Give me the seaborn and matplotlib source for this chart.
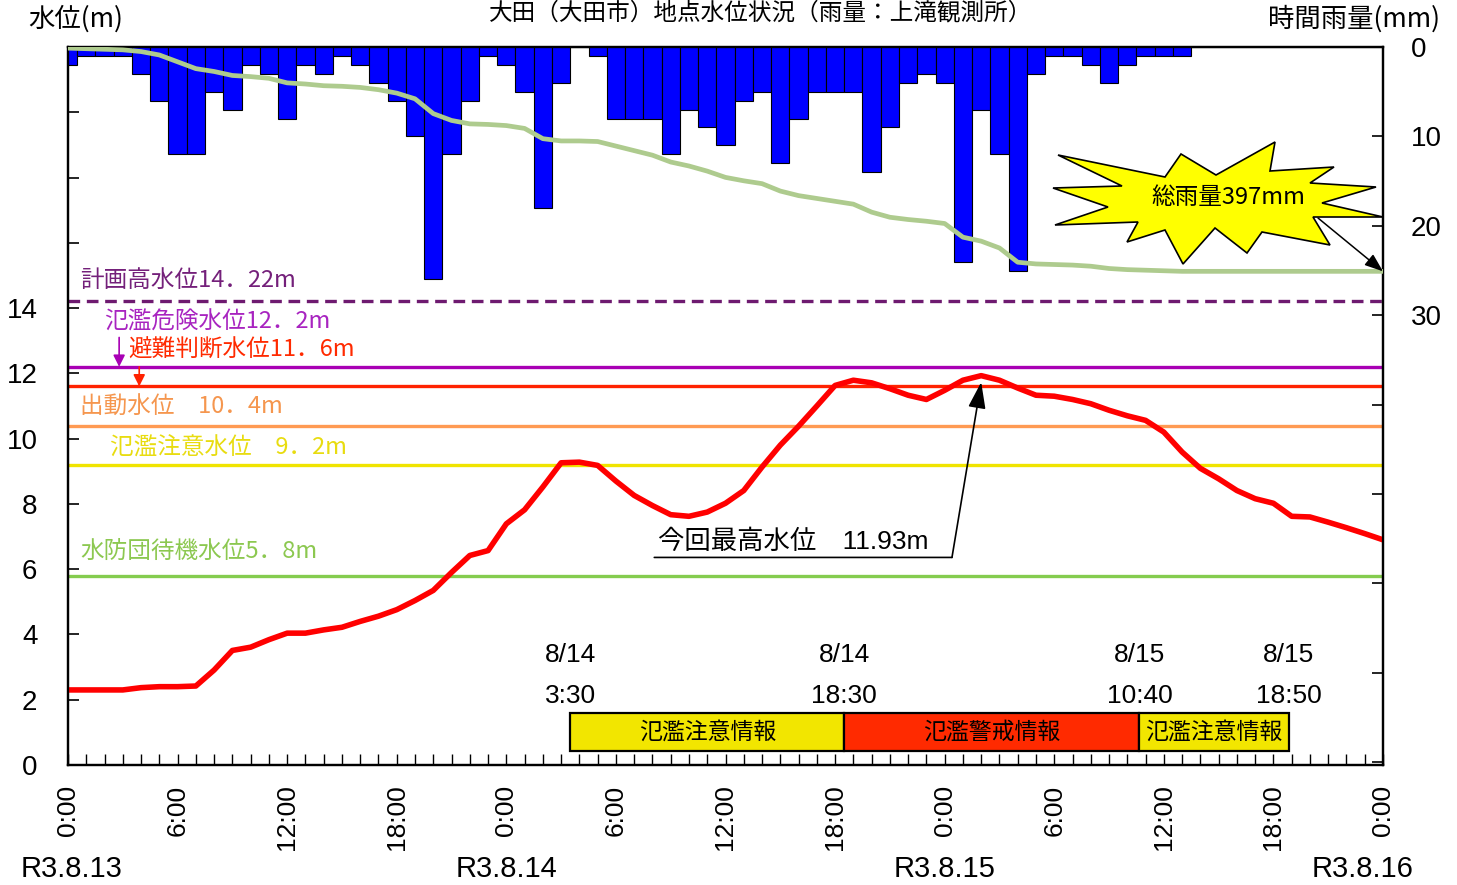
import numpy as np
import matplotlib
matplotlib.use("Agg")
import matplotlib.pyplot as plt
import matplotlib.transforms as mtransforms
from matplotlib.patches import Polygon
import seaborn as sns

# ---------------- data ----------------
hours = list(range(73))  # 0 = R3.8.13 0:00 ... 72 = R3.8.16 0:00
rain_mm = [2, 1, 1, 1, 3, 6, 12, 12, 5, 7, 2, 3, 8, 2, 3, 1, 2, 4, 6,
           10, 26, 12, 6, 1, 2, 5, 18, 4, 0, 1, 8, 8, 8, 12, 7, 9, 11,
           6, 5, 13, 8, 5, 5, 5, 14, 9, 4, 3, 4, 24, 7, 12, 25, 3, 1,
           1, 2, 4, 2, 1, 1, 1, 0, 0, 0, 0, 0, 0, 0, 0, 0, 0, 0]
water_level = [2.30, 2.30, 2.30, 2.30, 2.37, 2.40, 2.40, 2.42, 2.91, 3.51,
               3.61, 3.84, 4.04, 4.04, 4.14, 4.22, 4.40, 4.56, 4.76, 5.04,
               5.35, 5.90, 6.42, 6.57, 7.39, 7.82, 8.52, 9.26, 9.28, 9.18,
               8.70, 8.26, 7.95, 7.67, 7.62, 7.75, 8.02, 8.41, 9.13, 9.80,
               10.38, 11.00, 11.63, 11.79, 11.71, 11.53, 11.33, 11.20, 11.48, 11.79,
               11.93, 11.79, 11.55, 11.33, 11.30, 11.20, 11.07, 10.87, 10.70, 10.56,
               10.20, 9.59, 9.09, 8.77, 8.41, 8.16, 8.02, 7.62, 7.60, 7.44,
               7.27, 7.09, 6.90]
total_rain_label = "総雨量397mm"
peak_label = "今回最高水位　11.93m"

threshold_names = ["計画高水位14．22m", "氾濫危険水位12．2m", "避難判断水位11．6m",
                   "出動水位　10．4m", "氾濫注意水位　9．2m", "水防団待機水位5．8m"]
threshold_values = [14.22, 12.2, 11.6, 10.4, 9.2, 5.8]
threshold_colors = ["#6E1A70", "#A800B4", "#FF2200", "#FF9A52", "#F0E400", "#84CC4E"]
threshold_text_colors = ["#74207A", "#A824C0", "#FF2A00", "#F5964E", "#E8DC10", "#8CC850"]

warn_labels = ["氾濫注意情報", "氾濫警戒情報", "氾濫注意情報"]
warn_start = [27.5, 42.5, 58 + 40 / 60]   # 8/14 3:30, 8/14 18:30, 8/15 10:40
warn_end = [42.5, 58 + 40 / 60, 66 + 50 / 60]  # ..., 8/15 18:50
warn_colors = ["#F2E600", "#FF2A00", "#F2E600"]
warn_time_labels = ["8/14\n3:30", "8/14\n18:30", "8/15\n10:40", "8/15\n18:50"]

xtick_labels = ["0:00", "6:00", "12:00", "18:00"] * 3 + ["0:00"]
date_labels = ["R3.8.13", "R3.8.14", "R3.8.15", "R3.8.16"]
left_tick_labels = ["0", "2", "4", "6", "8", "10", "12", "14", "", "", "", ""]
right_tick_labels = ["0", "10", "20", "30", "", "", "", "", ""]

# ---------------- style ----------------
CJK = ["Noto Sans CJK JP", "DejaVu Sans"]
NARROW = ["Liberation Sans", "Noto Sans CJK JP"]
plt.rcParams["font.family"] = CJK

W, H = 1457, 885
fig = plt.figure(figsize=(W / 100, H / 100), dpi=100)
L, R, T, B = 68, 1383, 47, 765
ax = fig.add_axes([L / W, 1 - B / H, (R - L) / W, (B - T) / H])
ax.set_xlim(0, 72)
ax.set_ylim(0, 22)

# threshold lines
for v, c in zip(threshold_values, threshold_colors):
    ls = (0, (3.5, 2)) if v == threshold_values[0] else "-"
    ax.axhline(v, color=c, lw=2.4, ls=ls, zorder=2)

label_pos = [(0.66, 14.86), (1.97, 13.57), (3.29, 12.71), (0.66, 10.96), (2.3, 9.71), (0.66, 6.54)]
for (x, y), txt, c in zip(label_pos, threshold_names, threshold_text_colors):
    ax.text(x, y, txt, color=c, fontsize=17, va="center", ha="left", family=CJK, zorder=5)
ax.annotate("", xy=(2.8, threshold_values[1]), xytext=(2.8, 13.1),
            arrowprops=dict(arrowstyle="-|>,head_length=0.5,head_width=0.25", color=threshold_colors[1],
                            lw=1.2, shrinkA=0, shrinkB=0, mutation_scale=14))
ax.annotate("", xy=(3.9, threshold_values[2]), xytext=(3.9, threshold_values[1]),
            arrowprops=dict(arrowstyle="-|>,head_length=0.5,head_width=0.25", color=threshold_colors[2],
                            lw=1.2, shrinkA=0, shrinkB=0, mutation_scale=14))

# warning boxes
for s, e, c, lab in zip(warn_start, warn_end, warn_colors, warn_labels):
    ax.barh(1.02, e - s, left=s, height=1.16, color=c, edgecolor="black", linewidth=1.6, zorder=3)
    ax.text((s + e) / 2, 1.02, lab, ha="center", va="center", fontsize=16.5, family=CJK, zorder=4)
bounds = warn_start + [warn_end[-1]]
for xb, lab in zip(bounds, warn_time_labels):
    top, bottom = lab.split("\n")
    ax.text(xb, 3.36, top, ha="center", va="center", fontsize=19, family=NARROW)
    ax.text(xb, 2.12, bottom, ha="center", va="center", fontsize=19, family=NARROW)

# water level
sns.lineplot(x=hours, y=water_level, ax=ax, color="#FF0000", lw=4.0, zorder=6)

# peak annotation
imax = int(np.argmax(water_level))
ax.annotate("", xy=(32.1, 6.36), xytext=(48.4, 6.36),
            arrowprops=dict(arrowstyle="-", color="black", lw=1.2, shrinkA=0, shrinkB=0))
ax.annotate("", xy=(hours[imax], water_level[imax] - 0.2), xytext=(48.4, 6.36),
            arrowprops=dict(arrowstyle="-|>,head_length=0.9,head_width=0.3", color="black", lw=1.2,
                            shrinkA=0, shrinkB=0, mutation_scale=18), zorder=8)
ax.text(32.3, 6.47, peak_label, ha="left", va="bottom", fontsize=19, family=NARROW)

# axes styling (left / bottom)
ax.set_yticks(range(0, 23, 2))
ax.set_yticklabels(left_tick_labels, family=NARROW)
ax.set_xticks(range(0, 73, 6))
ax.set_xticklabels(xtick_labels, rotation=90, family=NARROW)
ax.set_xticks(range(0, 73), minor=True)
ax.tick_params(axis="y", direction="in", length=8, width=1.2, labelsize=20, pad=22)
ax.tick_params(axis="x", which="both", direction="in", length=8, width=1.0, labelsize=19, pad=14)
for sp in ax.spines.values():
    sp.set_linewidth(1.6)
ax.set_xlabel("")
ax.set_ylabel("")

# rain bars (right axis, inverted)
ax2 = ax.twinx()
sns.barplot(x=hours, y=rain_mm, ax=ax2, native_scale=True, color="#0000FF", saturation=1,
            edgecolor="black", linewidth=0.8, width=1, errorbar=None)
ax2.set_ylim(80.3, 0)
ax2.set_xlim(0, 72)
ax2.set_yticks(range(0, 81, 10))
ax2.set_yticklabels(right_tick_labels, family=NARROW)
ax2.tick_params(axis="y", direction="in", length=8, width=1.2, labelsize=20, pad=20)
ax2.set_ylabel("")
ax2.set_xlabel("")
for sp in ax2.spines.values():
    sp.set_linewidth(1.6)

# cumulative rain (hidden axis)
ax3 = ax.twinx()
cum = np.cumsum(rain_mm)
sns.lineplot(x=hours, y=cum, ax=ax3, color="#AECB8E", lw=3.4)
ax3.set_ylim(1261, 0)
ax3.set_xlim(0, 72)
ax3.axis("off")
ax3.annotate("", xy=(hours[-1], cum[-1]), xytext=(1318, H - 218), textcoords="figure pixels",
             arrowprops=dict(arrowstyle="-|>,head_length=0.8,head_width=0.3", color="black", lw=1.1,
                             shrinkA=0, shrinkB=0, mutation_scale=14), annotation_clip=False)

# starburst callout
star_px = [(1058, 155), (1165, 177), (1181, 154), (1216, 175), (1275, 142), (1270, 171),
           (1334, 167), (1310, 183), (1376, 187), (1322, 203), (1383, 217), (1313, 217),
           (1330, 245), (1262, 232), (1247, 253), (1215, 228), (1183, 264), (1165, 230),
           (1127, 242), (1138, 222), (1055, 225), (1108, 207), (1053, 188), (1122, 186)]
star = Polygon([(x / W, 1 - y / H) for x, y in star_px], closed=True, transform=fig.transFigure,
               facecolor="#FFFF00", edgecolor="black", lw=1.2, zorder=10)
fig.add_artist(star)
fig.text(1228 / W, 1 - 198 / H, total_rain_label, ha="center", va="center", fontsize=17,
         family=CJK, zorder=11)

# axis titles, title, date labels
fig.text(28 / W, 1 - 19 / H, "水位(m)", ha="left", va="center", fontsize=19, family=CJK)
fig.text(1440 / W, 1 - 19 / H, "時間雨量(mm)", ha="right", va="center", fontsize=19, family=CJK)
fig.text(761 / W, 1 - 1 / H, "大田（大田市）地点水位状況（雨量：上滝観測所）", ha="center", va="top",
         fontsize=17, family=CJK)
trans = mtransforms.blended_transform_factory(ax.transData, fig.transFigure)
for xh, lab in zip([0.2, 24, 48, 70.9], date_labels):
    ax.text(xh, 1 - 869 / H, lab, transform=trans, ha="center", va="center", fontsize=21,
            family=NARROW, clip_on=False)

fig.savefig("out.png", dpi=100)
